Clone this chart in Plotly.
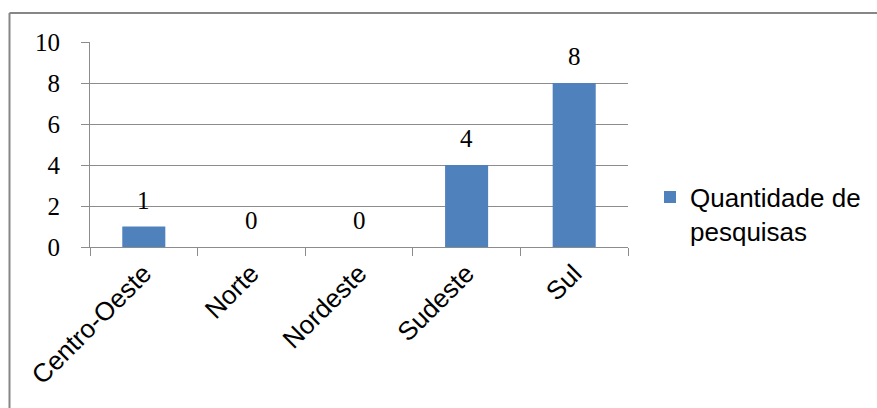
import plotly.graph_objects as go

categories = ["Centro-Oeste", "Norte", "Nordeste", "Sudeste", "Sul"]
values = [1, 0, 0, 4, 8]
series_name = "Quantidade de<br>pesquisas"
y_ticks = [0, 2, 4, 6, 8, 10]

W, H = 877, 408
ML, MR, MT, MB = 90, 249, 42, 161
pw = W - ML - MR
ph = H - MT - MB

fig = go.Figure()
fig.add_trace(go.Bar(
    x=categories, y=values, name=series_name,
    marker=dict(color="#4F81BD", line=dict(width=0)),
    width=0.4, showlegend=True,
))

for c, v in zip(categories, values):
    fig.add_annotation(x=c, y=v, text=str(v), showarrow=False,
                       yanchor="bottom", yshift=11,
                       font=dict(family="Liberation Serif", size=25, color="#000000"))

grid = "#8C8C8C"
fig.update_layout(
    width=W, height=H,
    margin=dict(l=ML, r=MR, t=MT, b=MB, pad=0, autoexpand=False),
    paper_bgcolor="white", plot_bgcolor="white",
    bargap=0.6,
    font=dict(family="Liberation Sans", size=26, color="#000000"),
    xaxis=dict(
        type="category", tickson="boundaries", ticks="outside", ticklen=8,
        tickcolor=grid, tickwidth=1, showline=True, linecolor=grid, linewidth=1,
        tickangle=-45, showgrid=False, zeroline=False,
        tickfont=dict(family="Liberation Sans", size=26),
    ),
    yaxis=dict(
        range=[0, 10], tickvals=y_ticks, ticks="outside", ticklen=8,
        tickcolor=grid, showline=True, linecolor=grid, linewidth=1,
        showgrid=True, gridcolor=grid, gridwidth=1, zeroline=False,
        tickfont=dict(family="Liberation Sans", size=25),
        ticklabelstandoff=16,
    ),
    legend=dict(
        x=(650 - ML) / pw, y=(MT + ph - 214) / ph, xanchor="left", yanchor="middle",
        font=dict(family="Liberation Sans", size=26), valign="top",
        bgcolor="rgba(0,0,0,0)", tracegroupgap=0, itemwidth=30,
    ),
)
fig.update_yaxes(tickfont=dict(family="Liberation Serif", size=25))

# outer chart border (top and left edges visible)
bx0 = (9.5 - ML) / pw
bx1 = (W + 2 - ML) / pw
by_top = (MT + ph - 13) / ph
by_bot = (MT + ph - H - 2) / ph
fig.add_shape(type="line", xref="paper", yref="paper", x0=bx0, x1=bx1, y0=by_top, y1=by_top,
              line=dict(color="#868686", width=2))
fig.add_shape(type="line", xref="paper", yref="paper", x0=bx0, x1=bx0, y0=by_top, y1=by_bot,
              line=dict(color="#868686", width=2))

fig.write_html("out.html")
